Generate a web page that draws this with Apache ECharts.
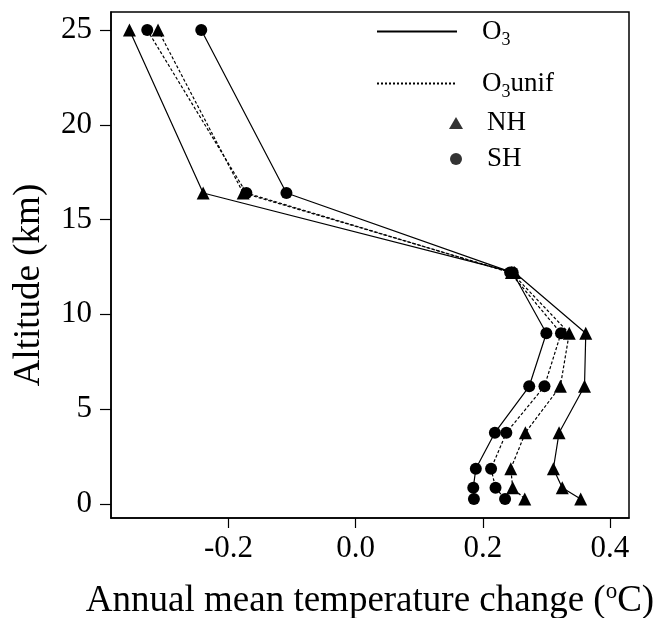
<!DOCTYPE html>
<html lang="en">

<head>
    <meta charset="UTF-8">
    <title>Altitude vs temperature change</title>
    <script src="https://cdn.jsdelivr.net/npm/echarts@6/dist/echarts.min.js"></script>
</head>

<body style="margin:0">
    <div id="main" style="width: 666px;height:618px;"></div>
    <script type="text/javascript">
        // altitude levels (km), shared by all four profiles
        var altitude = [25, 16.4, 12.2, 9.0, 6.2, 3.75, 1.85, 0.85, 0.25];
        // annual mean temperature change (C)
        var nhO3 = [-0.356, -0.240, 0.250, 0.362, 0.360, 0.320, 0.311, 0.325, 0.354];
        var shO3 = [-0.243, -0.109, 0.247, 0.300, 0.273, 0.219, 0.189, 0.185, 0.186];
        var nhUnif = [-0.311, -0.177, 0.245, 0.336, 0.322, 0.267, 0.244, 0.247, 0.266];
        var shUnif = [-0.328, -0.172, 0.243, 0.323, 0.297, 0.237, 0.213, 0.220, 0.235];
        var xTicks = [-0.2, 0.0, 0.2, 0.4];
        var yTicks = [0, 5, 10, 15, 20, 25];

        var font = 'Liberation Serif';

        function pairs(xs) {
            return xs.map(function (x, i) { return [x, altitude[i]]; });
        }

        function profile(name, xs, dashed, symbol) {
            return {
                name: name,
                type: 'line',
                data: pairs(xs),
                symbol: symbol,
                symbolSize: symbol === 'circle' ? 12 : 13,
                showSymbol: true,
                itemStyle: { color: '#000' },
                lineStyle: { color: '#000', width: 1.2, type: dashed ? [3, 2] : 'solid' }
            };
        }

        var myChart = echarts.init(document.getElementById('main'));

        var option = {
            backgroundColor: '#fff',
            animation: false,
            grid: {
                left: 111, right: 37, top: 12, bottom: 100,
                outerBoundsMode: 'none',
                show: true, borderColor: '#000', borderWidth: 1.5
            },
            legend: [{
                data: ['O3', 'O3unif'],
                orient: 'vertical',
                left: 376, top: 18,
                padding: 0,
                itemWidth: 80, itemHeight: 10, itemGap: 21,
                itemStyle: { color: 'rgba(0,0,0,0)', borderColor: 'rgba(0,0,0,0)', borderWidth: 0 },
                formatter: function (name) {
                    return name === 'O3' ? '{o|O}{s|3}' : '{o|O}{s|3}{o|unif}';
                },
                textStyle: {
                    padding: [0, 0, 0, 20],
                    rich: {
                        o: { fontFamily: font, fontSize: 27, color: '#000', lineHeight: 32 },
                        s: { fontFamily: font, fontSize: 18, color: '#000', padding: [17, 0, 0, 0] }
                    }
                }
            }, {
                data: ['NH', 'SH'],
                orient: 'vertical',
                left: 449, top: 108,
                padding: 0,
                itemWidth: 14, itemHeight: 12, itemGap: 6,
                textStyle: {
                    fontFamily: font, fontSize: 27, color: '#000', lineHeight: 30,
                    padding: [0, 0, 0, 19]
                }
            }],
            xAxis: {
                type: 'value',
                min: -0.385, max: 0.43,
                splitLine: { show: false },
                axisLine: { show: true, onZero: false, lineStyle: { color: '#000', width: 1.5 } },
                axisTick: { show: true, length: 10, customValues: xTicks, lineStyle: { color: '#000', width: 1.2 } },
                axisLabel: {
                    customValues: xTicks, margin: 15,
                    fontFamily: font, fontSize: 31, color: '#000',
                    formatter: function (v) { return v.toFixed(1); }
                },
                name: '{a|Annual mean temperature change (}{s|o}{a|C)}',
                nameLocation: 'middle',
                nameGap: 62,
                nameTextStyle: {
                    rich: {
                        a: { fontFamily: font, fontSize: 37, color: '#000' },
                        s: { fontFamily: font, fontSize: 23, color: '#000', padding: [0, 0, 20, 0] }
                    }
                }
            },
            yAxis: {
                type: 'value',
                min: -0.75, max: 25.95,
                splitLine: { show: false },
                axisLine: { show: true, onZero: false, lineStyle: { color: '#000', width: 1.5 } },
                axisTick: { show: true, length: 11, customValues: yTicks, lineStyle: { color: '#000', width: 1.2 } },
                axisLabel: {
                    customValues: yTicks, margin: 19,
                    fontFamily: font, fontSize: 31, color: '#000'
                },
                name: 'Altitude (km)',
                nameLocation: 'middle',
                nameGap: 63,
                nameTextStyle: {
                    fontFamily: font, fontSize: 37, color: '#000',
                    padding: [0, 40, 0, 0]
                }
            },
            series: [
                profile('O3 NH', nhO3, false, 'triangle'),
                profile('O3 SH', shO3, false, 'circle'),
                profile('O3unif NH', nhUnif, true, 'triangle'),
                profile('O3unif SH', shUnif, true, 'circle'),
                // legend-only entries
                { name: 'O3', type: 'line', data: [], symbol: 'none', lineStyle: { color: '#000', width: 1.2 }, itemStyle: { color: '#000' } },
                { name: 'O3unif', type: 'line', data: [], symbol: 'none', lineStyle: { color: '#000', width: 1.2, type: [2, 2] }, itemStyle: { color: '#000' } },
                { name: 'NH', type: 'scatter', data: [], symbol: 'triangle', itemStyle: { color: '#000' } },
                { name: 'SH', type: 'scatter', data: [], symbol: 'circle', itemStyle: { color: '#000' } }
            ]
        };

        myChart.setOption(option);
    </script>
</body>

</html>
